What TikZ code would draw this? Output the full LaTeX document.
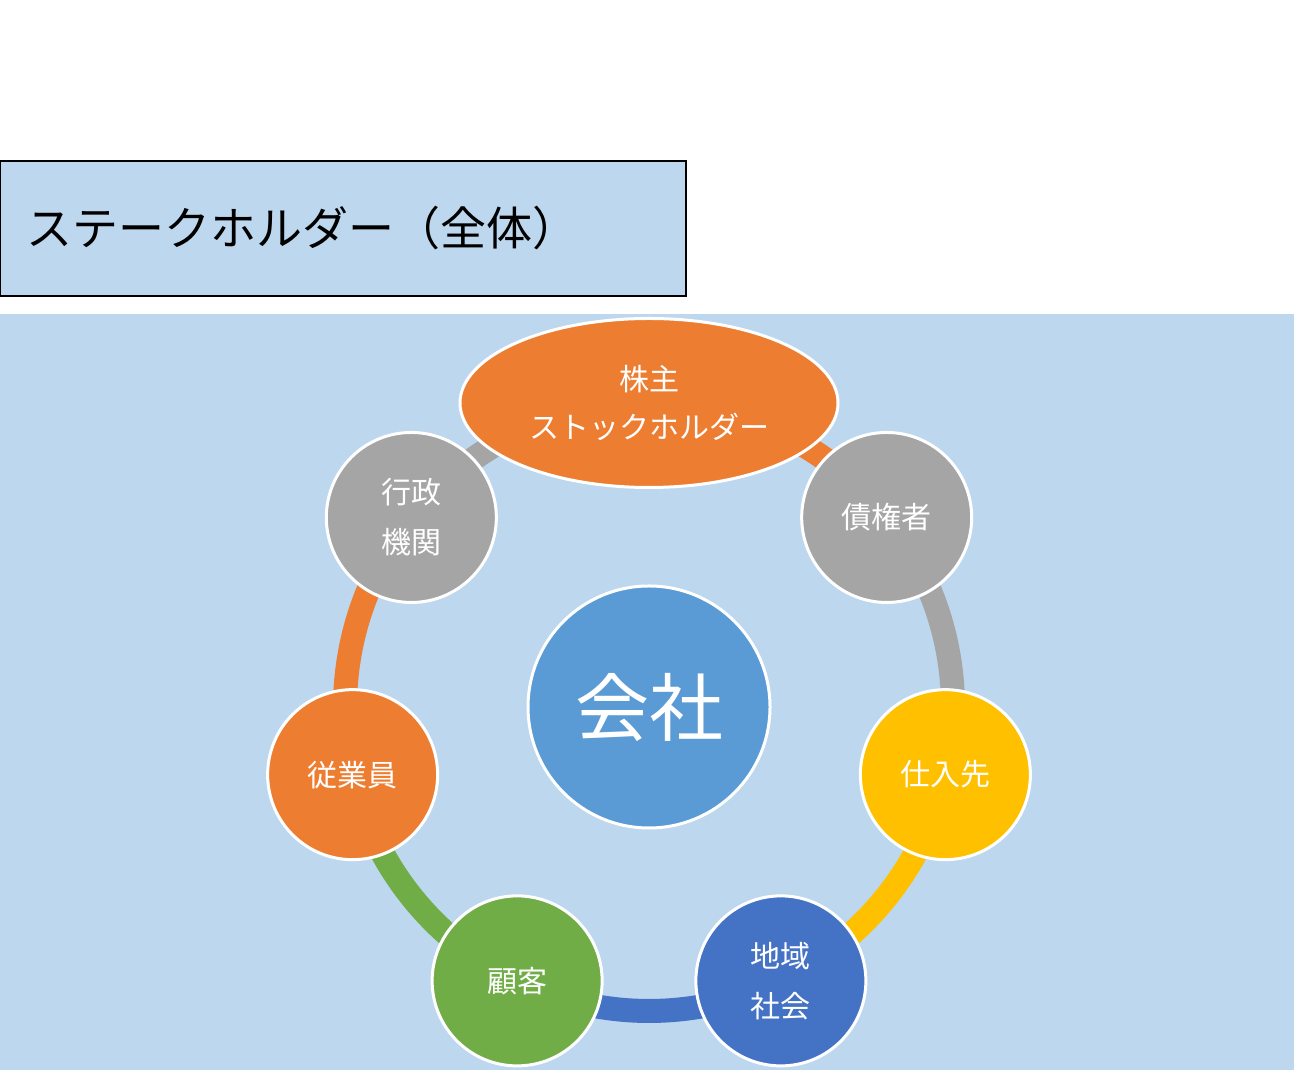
\documentclass[tikz,border=0pt]{standalone}
\usepackage{fontspec}
\setmainfont{Noto Sans CJK JP}
\usetikzlibrary{shapes.geometric,backgrounds}
\definecolor{BgBlue}{HTML}{BDD7EE}
\definecolor{CoBlue}{HTML}{5B9BD5}
\definecolor{SkOrange}{HTML}{ED7D31}
\definecolor{SkGray}{HTML}{A5A5A5}
\definecolor{SkYellow}{HTML}{FFC000}
\definecolor{SkBlue}{HTML}{4472C4}
\definecolor{SkGreen}{HTML}{70AD47}

\begin{document}
\begin{tikzpicture}[x=0.5pt,y=0.5pt,
  member/.style={circle,draw=white,line width=1.5pt,minimum size=85pt,inner sep=0pt,
    text=white,align=center,font=\fontsize{15}{25}\selectfont},
  ring/.style={line width=12pt}]
  \useasboundingbox (0,0) rectangle (1294,1080);
  % title
  \draw[fill=BgBlue,line width=1pt] (0,919) rectangle (686,784);
  \node[anchor=west,inner sep=0pt,font=\fontsize{23}{23}\selectfont] (title) at (26,852) {ステークホルダー（全体）};
  % company and stakeholders
  \begin{scope}[shift={(649,373)}]
    \node[circle,fill=CoBlue,draw=white,line width=1.5pt,minimum size=121pt,inner sep=0pt,
      text=white,font=\fontsize{37}{37}\selectfont] (kaisha) at (0,0) {会社};
    \node[ellipse,fill=SkOrange,draw=white,line width=1.5pt,minimum width=189pt,minimum height=84.5pt,
      inner sep=0pt,text=white,align=center,font=\fontsize{15}{24}\selectfont] (kabunushi) at (90:304) {株主\\ストックホルダー};
    \node[member,fill=SkGray] (saikensha) at (38.57:304) {債権者};
    \node[member,fill=SkYellow] (shiiresaki) at (-12.86:304) {仕入先};
    \node[member,fill=SkBlue] (chiiki) at (-64.29:304) {地域\\社会};
    \node[member,fill=SkGreen] (kokyaku) at (-115.71:304) {顧客};
    \node[member,fill=SkOrange] (juugyouin) at (-167.14:304) {従業員};
    \node[member,fill=SkGray] (gyousei) at (141.43:304) {行政\\機関};
  \end{scope}
  % ring behind the nodes
  \begin{pgfonlayer}{background}
    \fill[BgBlue] (0,10) rectangle (1294,766);
    \draw[ring,SkOrange] (kabunushi.center) arc[start angle=90,end angle=38.57,radius=304];
    \draw[ring,SkGray] (saikensha.center) arc[start angle=38.57,end angle=-12.86,radius=304];
    \draw[ring,SkYellow] (shiiresaki.center) arc[start angle=-12.86,end angle=-64.29,radius=304];
    \draw[ring,SkBlue] (chiiki.center) arc[start angle=-64.29,end angle=-115.71,radius=304];
    \draw[ring,SkGreen] (kokyaku.center) arc[start angle=-115.71,end angle=-167.14,radius=304];
    \draw[ring,SkOrange] (juugyouin.center) arc[start angle=-167.14,end angle=-218.57,radius=304];
    \draw[ring,SkGray] (gyousei.center) arc[start angle=141.43,end angle=90,radius=304];
  \end{pgfonlayer}
\end{tikzpicture}
\end{document}
